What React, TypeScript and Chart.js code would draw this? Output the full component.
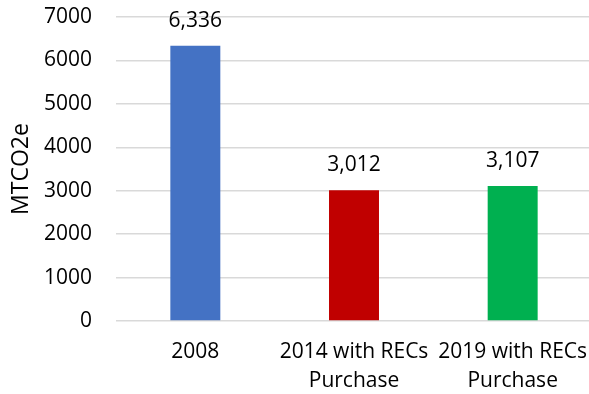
import React, { useEffect, useRef } from "react";
import { Chart, registerables } from "chart.js";

Chart.register(...registerables);

const categories: string[][] = [
  ["2008"],
  ["2014 with RECs", "Purchase"],
  ["2019 with RECs", "Purchase"],
];
const emissions: number[] = [6336, 3012, 3107];
const barColors: string[] = ["#4472C4", "#C00000", "#00B050"];
const yTicks = { min: 0, max: 7000, step: 1000 };
const yTitle = "MTCO2e";

const FONT = "'Open Sans', sans-serif";

// Draws the formatted value centred above each bar.
const valueLabels = {
  id: "valueLabels",
  afterDatasetsDraw(chart: any) {
    const ctx = chart.ctx;
    const meta = chart.getDatasetMeta(0);
    const data = chart.data.datasets[0].data as number[];
    ctx.save();
    ctx.font = `21px ${FONT}`;
    ctx.fillStyle = "#000";
    ctx.textAlign = "center";
    ctx.textBaseline = "middle";
    meta.data.forEach((bar: any, i: number) => {
      ctx.fillText(data[i].toLocaleString("en-US"), bar.x, bar.y - 25);
    });
    ctx.restore();
  },
};

export default function App() {
  const canvasRef = useRef<HTMLCanvasElement | null>(null);

  useEffect(() => {
    document.body.style.margin = "0";
    const canvas = canvasRef.current;
    if (!canvas) return;
    const chart = new Chart(canvas, {
      type: "bar",
      data: {
        labels: categories,
        datasets: [
          {
            data: emissions,
            backgroundColor: barColors,
            borderWidth: 0,
            barPercentage: 0.315,
            categoryPercentage: 1,
          },
        ],
      },
      options: {
        animation: false,
        responsive: false,
        maintainAspectRatio: false,
        layout: { padding: { top: 17, right: 0, bottom: 0, left: 0 } },
        plugins: {
          legend: { display: false },
          tooltip: { enabled: false },
        },
        scales: {
          x: {
            grid: { display: false, drawTicks: false },
            border: { display: false },
            ticks: {
              color: "#000",
              padding: 17,
              maxRotation: 0,
              autoSkip: false,
              font: { family: FONT, size: 21, lineHeight: 1.38 },
            },
            afterFit(scale: any) {
              scale.height = 73;
              scale.paddingLeft = 0;
              scale.paddingRight = 0;
            },
          },
          y: {
            min: yTicks.min,
            max: yTicks.max,
            grid: { color: "#D9D9D9", lineWidth: 1.5, drawTicks: false },
            border: { display: false },
            ticks: {
              stepSize: yTicks.step,
              color: "#000",
              padding: 24,
              font: { family: FONT, size: 21 },
              callback: (v: any) => String(v),
            },
            title: {
              display: true,
              text: yTitle,
              color: "#000",
              font: { family: FONT, size: 23 },
              padding: { top: 8, bottom: 0 },
            },
            afterFit(scale: any) {
              scale.width = 116;
              scale.paddingTop = 0;
              scale.paddingBottom = 0;
            },
          },
        },
      },
      plugins: [valueLabels],
    });
    return () => chart.destroy();
  }, []);

  return (
    <div style={{ width: 589, height: 394, overflow: "hidden" }}>
      <canvas ref={canvasRef} width={592} height={394} style={{ display: "block" }} />
    </div>
  );
}
